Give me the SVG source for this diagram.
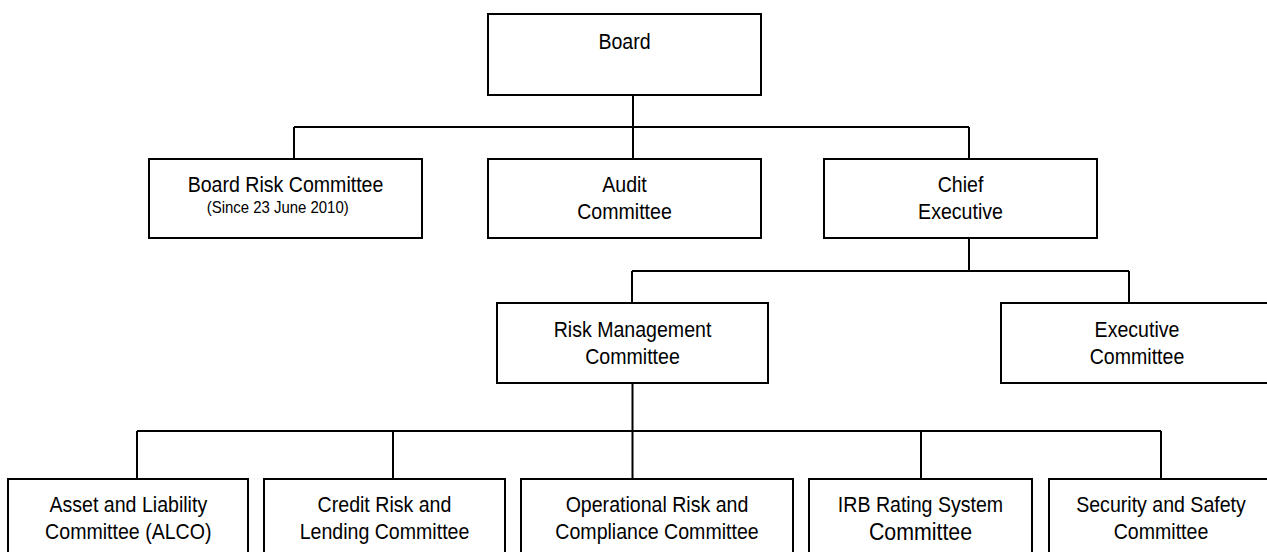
<svg xmlns="http://www.w3.org/2000/svg" width="1267" height="552" viewBox="0 0 1267 552">
<style>
.box{fill:#fff;stroke:#000;stroke-width:2}
.ln{fill:none;stroke:#000;stroke-width:2}
text{font-family:"Liberation Sans",Arial,sans-serif;font-size:22px;fill:#000;text-anchor:middle}
.sm{font-size:16.8px}
.lg{font-size:24px}
</style>
<rect width="1267" height="552" fill="#fff"/>
<g id="connectors">
<path class="ln" d="M633 95V127M294 127H969M294 127V159M633 127V159M969 127V159"/>
<path class="ln" d="M969 238V271M632 271H1129M632 271V303M1129 271V303"/>
<path class="ln" d="M632.5 383V479M137 431H1161M137 431V479M393 431V479M921 431V479M1161 431V479"/>
</g>
<g id="board">
<rect class="box" x="488" y="14" width="273" height="81"/>
<g transform="translate(624.5 0) scale(0.89 1)"><text x="0" y="49">Board</text></g>
</g>
<g id="board-risk">
<rect class="box" x="149" y="159" width="273" height="79"/>
<g transform="translate(285.5 0) scale(0.89 1)"><text x="0" y="192">Board Risk Committee</text></g>
<g transform="translate(277.7 0) scale(0.89 1)"><text class="sm" x="0" y="213">(Since 23 June 2010)</text></g>
</g>
<g id="audit">
<rect class="box" x="488" y="159" width="273" height="79"/>
<g transform="translate(624.5 0) scale(0.89 1)"><text x="0" y="192">Audit</text><text x="0" y="219">Committee</text></g>
</g>
<g id="chief">
<rect class="box" x="824" y="159" width="273" height="79"/>
<g transform="translate(960.5 0) scale(0.89 1)"><text x="0" y="192">Chief</text><text x="0" y="219">Executive</text></g>
</g>
<g id="risk-mgmt">
<rect class="box" x="497" y="303" width="271" height="80"/>
<g transform="translate(632.5 0) scale(0.89 1)"><text x="0" y="337">Risk Management</text><text x="0" y="364">Committee</text></g>
</g>
<g id="exec">
<rect class="box" x="1001" y="303" width="273" height="80"/>
<g transform="translate(1137 0) scale(0.89 1)"><text x="0" y="337">Executive</text><text x="0" y="364">Committee</text></g>
</g>
<g id="alco">
<rect class="box" x="8" y="479" width="240" height="85"/>
<g transform="translate(128.3 0) scale(0.89 1)"><text x="0" y="512">Asset and Liability</text><text x="0" y="539">Committee (ALCO)</text></g>
</g>
<g id="credit">
<rect class="box" x="264" y="479" width="241" height="85"/>
<g transform="translate(384.5 0) scale(0.89 1)"><text x="0" y="512">Credit Risk and</text><text x="0" y="539">Lending Committee</text></g>
</g>
<g id="operational">
<rect class="box" x="521" y="479" width="272" height="85"/>
<g transform="translate(657 0) scale(0.89 1)"><text x="0" y="512">Operational Risk and</text><text x="0" y="539">Compliance Committee</text></g>
</g>
<g id="irb">
<rect class="box" x="809" y="479" width="223" height="85"/>
<g transform="translate(920.5 0) scale(0.89 1)"><text x="0" y="512">IRB Rating System</text><text class="lg" x="0" y="540">Committee</text></g>
</g>
<g id="security">
<rect class="box" x="1049" y="479" width="226" height="85"/>
<g transform="translate(1161 0) scale(0.89 1)"><text x="0" y="512">Security and Safety</text><text x="0" y="539">Committee</text></g>
</g>
</svg>
